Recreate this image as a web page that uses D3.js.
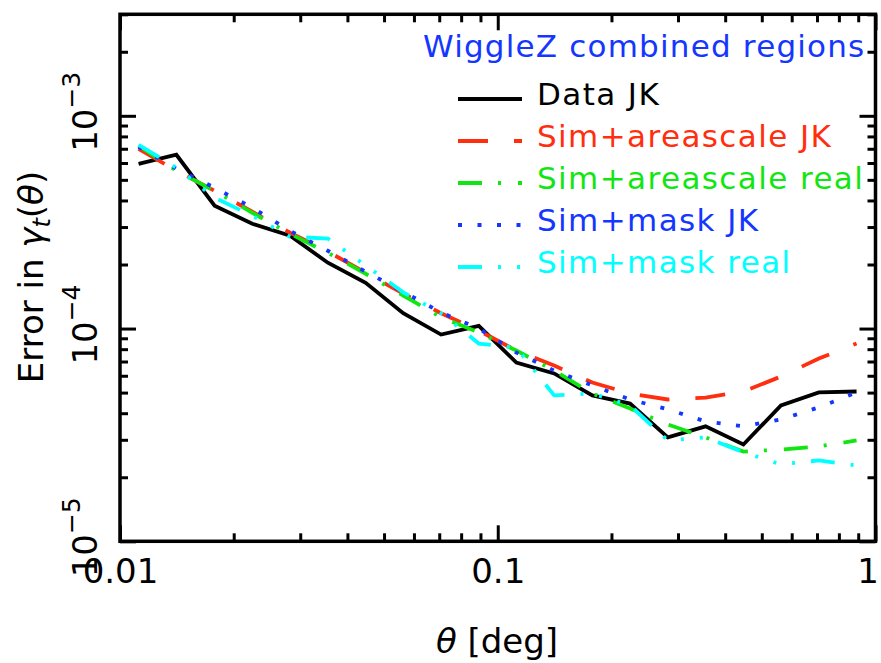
<!DOCTYPE html>
<html>
<head>
<meta charset="utf-8">
<script src="https://cdn.jsdelivr.net/npm/d3@7"></script>
<style>
  body { margin: 0; background: #fff; }
  text { font-family: "DejaVu Sans", sans-serif; }
</style>
</head>
<body>
<svg id="chart" width="881" height="663"></svg>
<script>
// Angular bins (degrees)
const thetaDeg = [0.0112, 0.0141, 0.0178, 0.0224, 0.0282, 0.0355, 0.0447, 0.0562, 0.0708, 0.0891,
                  0.112, 0.141, 0.178, 0.224, 0.282, 0.355, 0.447, 0.562, 0.708, 0.891];

// Error in gamma_t for each estimate
const dataJK = [5.95e-4, 6.56e-4, 3.78e-4, 3.11e-4, 2.73e-4, 2.04e-4, 1.64e-4, 1.18e-4, 9.37e-5, 1.03e-4,
                6.92e-5, 6.15e-5, 4.85e-5, 4.44e-5, 3.08e-5, 3.47e-5, 2.85e-5, 4.35e-5, 5.01e-5, 5.06e-5];
const simAreascaleJK = [7.00e-4, 5.52e-4, 4.44e-4, 3.54e-4, 2.82e-4, 2.30e-4, 1.83e-4, 1.46e-4, 1.18e-4, 9.78e-5,
                        7.88e-5, 6.70e-5, 5.58e-5, 4.95e-5, 4.64e-5, 4.74e-5, 5.06e-5, 5.95e-5, 7.23e-5, 8.50e-5];
const simAreascaleReal = [7.23e-4, 5.52e-4, 4.44e-4, 3.50e-4, 2.79e-4, 2.27e-4, 1.81e-4, 1.43e-4, 1.13e-4, 9.58e-5,
                          7.88e-5, 6.35e-5, 4.95e-5, 4.21e-5, 3.54e-5, 3.08e-5, 2.64e-5, 2.70e-5, 2.79e-5, 2.98e-5];
const simMaskJK = [7.15e-4, 5.64e-4, 4.59e-4, 3.70e-4, 2.88e-4, 2.32e-4, 1.85e-4, 1.49e-4, 1.19e-4, 1.00e-4,
                   7.71e-5, 6.35e-5, 5.40e-5, 4.64e-5, 4.17e-5, 3.66e-5, 3.47e-5, 3.74e-5, 4.26e-5, 5.01e-5];
const simMaskReal = [7.31e-4, 5.70e-4, 4.12e-4, 3.39e-4, 2.70e-4, 2.65e-4, 1.98e-4, 1.48e-4, 1.18e-4, 8.50e-5,
                     8.14e-5, 4.85e-5, 4.95e-5, 4.35e-5, 2.98e-5, 3.08e-5, 2.62e-5, 2.30e-5, 2.40e-5, 2.27e-5];

const seriesNames = ["Data JK", "Sim+areascale JK", "Sim+areascale real", "Sim+mask JK", "Sim+mask real"];
const seriesColors = ["#000000", "#ff2e0e", "#12e612", "#1436ff", "#00ffff"];
const seriesDash = [null, "30,26", "24,16,3,17", "4,15.5", "24,16,3,16,3,16,3,16"];
const seriesValues = [dataJK, simAreascaleJK, simAreascaleReal, simMaskJK, simMaskReal];

const legendTitle = "WiggleZ combined regions";
const xTickLabels = ["0.01", "0.1", "1"];
const xMajorTicks = [0.01, 0.1, 1];
const yMajorExponents = [-5, -4, -3];

const svg = d3.select("#chart");
const plotL = 120, plotR = 875.5, plotT = 14.3, plotB = 541.3;

const x = d3.scaleLog().domain([0.01, 1]).range([plotL, plotR]);
const y = d3.scaleLog().domain([1e-5, 3e-3]).range([plotB, plotT]);

// minor tick positions (2..9 within each decade)
const xMinor = [];
[0.01, 0.1].forEach(d => { for (let k = 2; k <= 9; k++) xMinor.push(d * k); });
const yMinor = [];
[1e-5, 1e-4, 1e-3].forEach(d => { for (let k = 2; k <= 9; k++) if (d * k <= 3e-3 + 1e-12) yMinor.push(d * k); });
const yMajor = yMajorExponents.map(e => Math.pow(10, e));

const majorLen = 16, minorLen = 8;
function styleAxis(g) {
  g.select(".domain").remove();
  g.selectAll(".tick line").attr("stroke", "#000").attr("stroke-width", 3);
}

// bottom / top
svg.append("g").attr("transform", `translate(0,${plotB})`)
  .call(d3.axisBottom(x).tickValues(xMinor).tickSize(-minorLen).tickFormat("")).call(styleAxis);
svg.append("g").attr("transform", `translate(0,${plotB})`)
  .call(d3.axisBottom(x).tickValues(xMajorTicks).tickSize(-majorLen).tickPadding(17.5)
        .tickFormat((d, i) => xTickLabels[i]))
  .call(styleAxis)
  .call(g => g.selectAll(".tick text").attr("fill", "#000").attr("font-size", 34)
        .attr("font-family", "DejaVu Sans, sans-serif")
        .attr("dx", (d, i) => i === xMajorTicks.length - 1 ? -8 : 0));
svg.append("g").attr("transform", `translate(0,${plotT})`)
  .call(d3.axisTop(x).tickValues(xMinor).tickSize(-minorLen).tickFormat("")).call(styleAxis);
svg.append("g").attr("transform", `translate(0,${plotT})`)
  .call(d3.axisTop(x).tickValues(xMajorTicks).tickSize(-majorLen).tickFormat("")).call(styleAxis);

// left / right
svg.append("g").attr("transform", `translate(${plotL},0)`)
  .call(d3.axisLeft(y).tickValues(yMinor).tickSize(-minorLen).tickFormat("")).call(styleAxis);
svg.append("g").attr("transform", `translate(${plotL},0)`)
  .call(d3.axisLeft(y).tickValues(yMajor).tickSize(-majorLen).tickFormat("")).call(styleAxis);
svg.append("g").attr("transform", `translate(${plotR},0)`)
  .call(d3.axisRight(y).tickValues(yMinor).tickSize(-minorLen).tickFormat("")).call(styleAxis);
svg.append("g").attr("transform", `translate(${plotR},0)`)
  .call(d3.axisRight(y).tickValues(yMajor).tickSize(-majorLen).tickFormat("")).call(styleAxis);

// y tick labels: 10 with superscript exponent, rotated
yMajorExponents.forEach(e => {
  const t = svg.append("text")
    .attr("transform", `translate(97,${y(Math.pow(10, e)) - 4}) rotate(-90)`)
    .attr("text-anchor", "middle").attr("font-size", 34).attr("fill", "#000");
  t.append("tspan").text("10");
  t.append("tspan").attr("font-size", 25).attr("dy", -17).text("\u2212" + Math.abs(e));
});

// frame
svg.append("rect").attr("x", plotL).attr("y", plotT)
  .attr("width", plotR - plotL).attr("height", plotB - plotT)
  .attr("fill", "none").attr("stroke", "#000").attr("stroke-width", 3.5);

// series lines
const line = d3.line().x(d => x(d[0])).y(d => y(d[1]));
seriesValues.forEach((vals, i) => {
  svg.append("path")
    .datum(thetaDeg.map((t, j) => [t, vals[j]]))
    .attr("d", line)
    .attr("fill", "none")
    .attr("stroke", seriesColors[i])
    .attr("stroke-width", 3.8)
    .attr("stroke-dasharray", seriesDash[i]);
});

// legend
svg.append("text").attr("x", 423).attr("y", 57).attr("font-size", 31)
  .attr("letter-spacing", 1.2).attr("fill", seriesColors[3]).text(legendTitle);
seriesNames.forEach((name, i) => {
  const base = 105 + i * 42;
  svg.append("line").attr("x1", 458).attr("x2", 522).attr("y1", base - 6).attr("y2", base - 6)
    .attr("stroke", seriesColors[i]).attr("stroke-width", 3.8)
    .attr("stroke-dasharray", seriesDash[i]);
  svg.append("text").attr("x", 537).attr("y", base).attr("font-size", 31)
    .attr("letter-spacing", 1.4).attr("fill", seriesColors[i]).text(name);
});

// axis titles
const xt = svg.append("text").attr("x", 497).attr("y", 653).attr("text-anchor", "middle")
  .attr("font-size", 34).attr("fill", "#000");
xt.append("tspan").attr("font-style", "italic").text("θ");
xt.append("tspan").text(" [deg]");

const yt = svg.append("text").attr("transform", "translate(43,277) rotate(-90)")
  .attr("text-anchor", "middle").attr("font-size", 34).attr("fill", "#000");
yt.append("tspan").text("Error in ");
yt.append("tspan").attr("font-style", "italic").text("γ");
yt.append("tspan").attr("font-size", 24).attr("dy", 7).attr("font-style", "italic").text("t");
yt.append("tspan").attr("dy", -7).text("(");
yt.append("tspan").attr("font-style", "italic").text("θ");
yt.append("tspan").text(")");
</script>
</body>
</html>
